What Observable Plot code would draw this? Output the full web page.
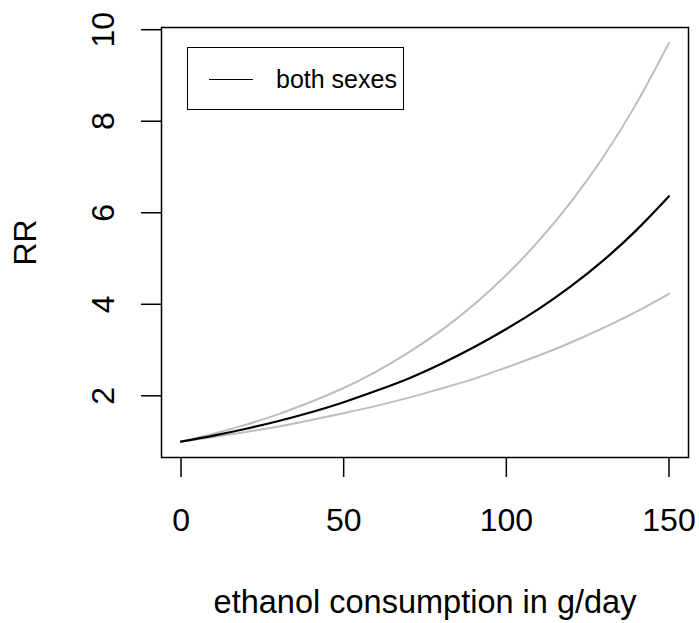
<!DOCTYPE html>
<html>
<head>
<meta charset="utf-8">
<script src="https://cdn.jsdelivr.net/npm/d3@7"></script>
<script src="https://cdn.jsdelivr.net/npm/@observablehq/plot@0.6"></script>
<style>
  html, body { margin: 0; padding: 0; background: #fff; }
  #wrap { position: relative; width: 699px; height: 623px; font-family: "Liberation Sans", Arial, sans-serif; }
  #legend { position: absolute; left: 187px; top: 47px; width: 215px; height: 61px; border: 1.5px solid #000; box-sizing: content-box; }
  #legend .ln { position: absolute; left: 21px; top: 31px; width: 44px; height: 0; border-top: 1.8px solid #000; }
  #legend .tx { position: absolute; left: 88px; top: 15px; font-size: 25px; line-height: 32px; color: #000; }
</style>
</head>
<body>
<div id="wrap">
  <div id="chart"></div>
  <div id="legend"><div class="ln"></div><div class="tx">both sexes</div></div>
</div>
<script>
// ethanol consumption (g/day)
const consumption = [0, 10, 20, 30, 40, 50, 60, 70, 80, 90, 100, 110, 120, 130, 140, 150];
// relative risk, both sexes (point estimate)
const rrEstimate = [1.00, 1.13, 1.28, 1.45, 1.64, 1.86, 2.11, 2.38, 2.70, 3.06, 3.46, 3.90, 4.40, 4.97, 5.62, 6.36];
// upper confidence limit
const rrUpper = [1.00, 1.17, 1.37, 1.60, 1.87, 2.17, 2.53, 2.95, 3.43, 3.99, 4.64, 5.39, 6.25, 7.24, 8.39, 9.71];
// lower confidence limit
const rrLower = [1.00, 1.10, 1.21, 1.33, 1.47, 1.62, 1.78, 1.96, 2.16, 2.37, 2.62, 2.88, 3.17, 3.49, 3.84, 4.23];

const xTicks = [0, 50, 100, 150];
const yTicks = [2, 4, 6, 8, 10];
const xTitle = "ethanol consumption in g/day";
const yTitle = "RR";

const rows = (ys) => consumption.map((x, i) => ({x, y: ys[i]}));

const chart = Plot.plot({
  width: 699,
  height: 623,
  marginLeft: 161,
  marginRight: 11,
  marginTop: 27,
  marginBottom: 166,
  style: {fontFamily: '"Liberation Sans", Arial, sans-serif', color: "#000", background: "#fff"},
  x: {domain: [-6, 156]},
  y: {domain: [0.652, 10.048]},
  marks: [
    Plot.line(rows(rrUpper), {x: "x", y: "y", stroke: "#bdbdbd", strokeWidth: 2, curve: "natural"}),
    Plot.line(rows(rrLower), {x: "x", y: "y", stroke: "#bdbdbd", strokeWidth: 2, curve: "natural"}),
    Plot.line(rows(rrEstimate), {x: "x", y: "y", stroke: "#000", strokeWidth: 2.2, curve: "natural"}),
    Plot.frame({stroke: "#000", strokeWidth: 1.5}),
    Plot.axisX(xTicks, {tickSize: 20, tickPadding: 31, fontSize: 32, label: null, strokeWidth: 1.5}),
    Plot.axisY(yTicks, {tickSize: 20, tickFormat: () => "", label: null, strokeWidth: 1.5}),
    Plot.text(yTicks, {y: d => d, text: d => String(d), frameAnchor: "left", dx: -58, rotate: -90, fontSize: 32, textAnchor: "middle", lineAnchor: "middle"}),
    Plot.text([xTitle], {text: d => d, frameAnchor: "bottom", dy: 145, fontSize: 32.5, textAnchor: "middle", lineAnchor: "middle"}),
    Plot.text([yTitle], {text: d => d, frameAnchor: "left", dx: -136, rotate: -90, fontSize: 32, textAnchor: "middle", lineAnchor: "middle"})
  ]
});
document.getElementById("chart").appendChild(chart);
</script>
</body>
</html>
